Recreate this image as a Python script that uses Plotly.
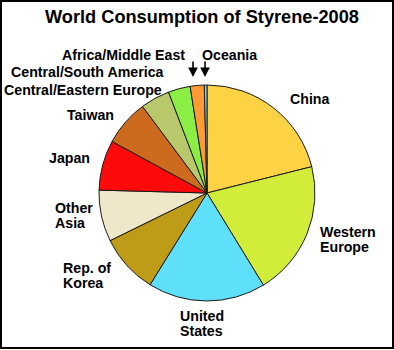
import plotly.graph_objects as go

regions = ["China", "Western Europe", "United States", "Rep. of Korea", "Other Asia",
           "Japan", "Taiwan", "Central/Eastern Europe", "Central/South America",
           "Africa/Middle East", "Oceania"]
share_pct = [21.1, 20.2, 17.6, 8.9, 7.7, 7.5, 6.9, 4.4, 3.3, 2.1, 0.4]
slice_colors = ["#FDD245", "#D2EC3A", "#5EE0FA", "#BE9C18", "#EFE7C9",
                "#FF0A0A", "#CD6A1E", "#B9C86A", "#8BEE45", "#FF9A35", "#7DD8F0"]
display_labels = ["China", "Western<br>Europe", "United<br>States", "Rep. of<br>Korea",
                  "Other<br>Asia", "Japan", "Taiwan", "Central/Eastern Europe",
                  "Central/South America", "Africa/Middle East", "Oceania"]
title_text = "World Consumption of Styrene-2008"

W, H = 394, 350
fig = go.Figure()
fig.add_trace(go.Pie(
    labels=regions, values=share_pct, sort=False, direction="clockwise", rotation=0,
    marker=dict(colors=slice_colors, line=dict(color="#1a1a1a", width=1)),
    textinfo="none", hoverinfo="label+percent", showlegend=False,
    domain=dict(x=[99 / W, 315 / W], y=[(H - 301) / H, (H - 85) / H]),
))

# label anchor points in pixels (left x, center y of first line)
pos = {
    "China": (288, 99),
    "Western Europe": (318, 232),
    "United States": (178, 316),
    "Rep. of Korea": (61, 268),
    "Other Asia": (53, 208),
    "Japan": (47, 158),
    "Taiwan": (65, 115),
    "Central/Eastern Europe": (2, 90),
    "Central/South America": (9, 72),
    "Africa/Middle East": (60, 55),
    "Oceania": (200, 55),
}
line_gap = 15
font = dict(family="Liberation Sans, Arial, sans-serif", size=14.2, color="black")
for reg, txt in zip(regions, display_labels):
    x, y = pos[reg]
    for i, part in enumerate(txt.split("<br>")):
        fig.add_annotation(x=x / W, y=1 - (y + i * line_gap) / H, xref="paper", yref="paper",
                           text="<b>" + part + "</b>", showarrow=False, xanchor="left",
                           yanchor="middle", font=font)

# arrows for tiny slices
for ax_px, tip in [(193, 77), (205, 77)]:
    fig.add_annotation(x=ax_px / W, y=1 - tip / H, ax=0, ay=-(tip - 60),
                       xref="paper", yref="paper", axref="pixel", ayref="pixel",
                       text="", showarrow=True, arrowhead=2, arrowsize=1.2,
                       arrowwidth=1.6, arrowcolor="black")

fig.add_annotation(x=202 / W, y=1 - 17 / H, xref="paper", yref="paper",
                   text="<b>" + title_text + "</b>", showarrow=False,
                   xanchor="center", yanchor="middle",
                   font=dict(family="Liberation Sans, Arial, sans-serif", size=18.2, color="black"))

fig.add_shape(type="rect", xref="paper", yref="paper",
              x0=1 / W, x1=(W - 1) / W, y0=2 / H, y1=1 - 1 / H,
              line=dict(color="black", width=2))

fig.update_layout(width=W, height=H, margin=dict(l=0, r=0, t=0, b=0),
                  paper_bgcolor="white", plot_bgcolor="white")
fig.write_html("out.html")
